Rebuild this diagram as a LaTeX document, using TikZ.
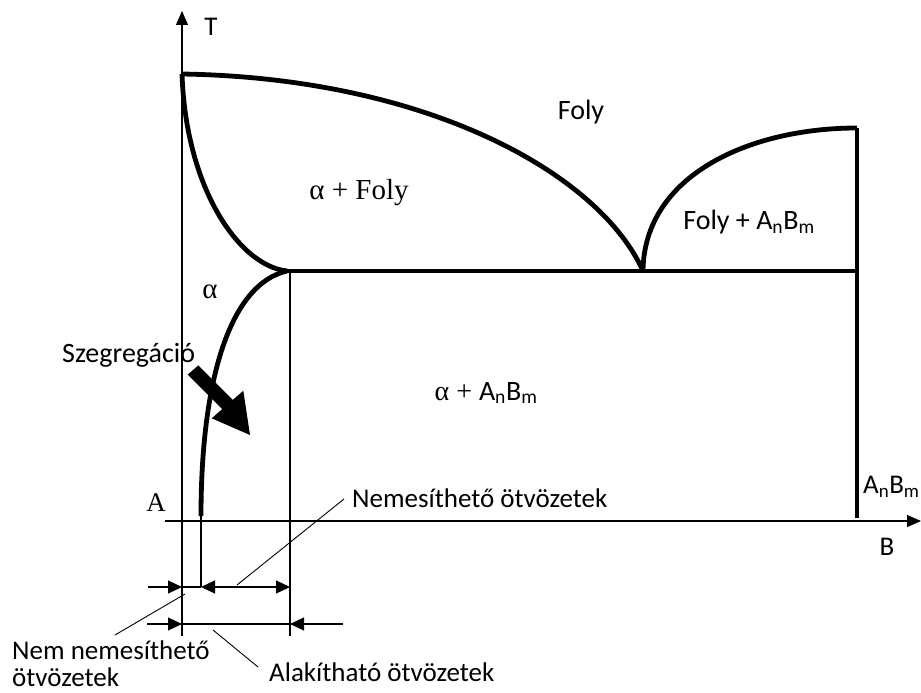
\documentclass[tikz,border=0pt]{standalone}
\usepackage{fontspec}
\setmainfont{Carlito}
\newfontfamily\seriffont{Liberation Serif}
\usetikzlibrary{arrows.meta}
\begin{document}
\begin{tikzpicture}[x=1pt,y=-1pt,
  heavy/.style={line width=4.8pt},
  fine/.style={line width=1.1pt},
  tipR/.style={fine,-{Triangle[length=14pt,width=13pt]}},
  tipB/.style={fine,{Triangle[length=14pt,width=13pt]}-{Triangle[length=14pt,width=13pt]}},
  lbl/.style={inner sep=0pt,font=\fontsize{28}{32}\selectfont},
  blbl/.style={inner sep=0pt,font=\fontsize{27}{31}\selectfont,anchor=base west},
  slbl/.style={inner sep=0pt,font=\fontsize{29}{33}\seriffont},
  leader/.style={line width=0.9pt}]
\useasboundingbox (0,0) rectangle (921,693);
% key points
\coordinate (Ttop) at (182,11);
\coordinate (Tbot) at (182,636);
\coordinate (Xl) at (165,521);
\coordinate (Xr) at (921,521);
\coordinate (Amelt) at (182,74);
\coordinate (E) at (643,271);
\coordinate (S) at (287,271);
\coordinate (Re) at (857,271);
\coordinate (Rtop) at (857,128);
\coordinate (Rbot) at (857,518);
\coordinate (Sb) at (201,516);
\coordinate (Sd) at (201,587);
\coordinate (Vt) at (290,271);
\coordinate (Vb) at (290,636);
% axes
\draw[fine,-{Triangle[length=14pt,width=12pt]}] (Tbot) -- (Ttop);
\draw[fine,-{Triangle[length=14pt,width=12pt]}] (Xl) -- (Xr);
% phase boundaries
\draw[heavy] (Amelt) .. controls (430,78) and (600,175) .. (E);
\draw[heavy] (E) .. controls (644,175) and (750,128) .. (Rtop);
\draw[heavy] (Rtop) -- (Rbot);
\draw[heavy] (S) -- (Re);
\draw[heavy] (Amelt) .. controls (186,190) and (240,266) .. (S);
\draw[heavy] (S) .. controls (230,284) and (201,380) .. (Sb);
% thin verticals
\draw[fine] (Sb) -- (Sd);
\draw[fine] (Vt) -- (Vb);
% dimension lines
\coordinate (d1a) at (148,587);
\coordinate (d1b) at (182,587);
\coordinate (d1c) at (290,587);
\coordinate (d2a) at (147,624);
\coordinate (d2b) at (182,624);
\coordinate (d2c) at (290,624);
\coordinate (d2d) at (343,624);
\draw[tipR] (d1a) -- (d1b);
\draw[fine] (d1b) -- (Sd);
\draw[tipB] (Sd) -- (d1c);
\draw[tipR] (d2a) -- (d2b);
\draw[fine] (d2b) -- (d2c);
\draw[tipR] (d2d) -- (d2c);
% segregation arrow
\fill (198.3,365.4) -- (232.8,399.9) -- (243.3,390.7) -- (250,435) -- (211.7,418.3) -- (222.2,409.1) -- (187.7,374.6) -- cycle;
% labels
\node[lbl,font=\fontsize{27}{31}\selectfont] (T) at (211,27) {T};
\node[slbl,font=\fontsize{27}{31}\seriffont] (A) at (156,503) {A};
\node[lbl,font=\fontsize{27}{31}\selectfont] (B) at (887,547) {B};
\node[lbl,font=\fontsize{27}{31}\selectfont,anchor=west] (AB) at (863,487) {A\textsubscript{n}B\textsubscript{m}};
\node[lbl] (Foly) at (581,112) {Foly};
\node[slbl] (aFoly) at (359,193) {α + Foly};
\node[lbl] (FAB) at (749,222) {Foly + A\textsubscript{n}B\textsubscript{m}};
\node[lbl] (aAB) at (486,393) {{\seriffont α + }A\textsubscript{n}B\textsubscript{m}};
\node[slbl] (alpha) at (210,292) {α};
\node[lbl,anchor=base west,font=\fontsize{28}{32}\selectfont] (Sz) at (62,362) {Szegregáció};
\node[blbl] (Nem) at (352,507) {Nemesíthető ötvözetek};
\node[blbl] (NN) at (12,659) {Nem nemesíthető};
\node[blbl] (NN2) at (12,686) {ötvözetek};
\node[blbl] (Alak) at (269,681) {Alakítható ötvözetek};
% leaders
\coordinate (l1) at (237,585);
\coordinate (l1e) at (344,499);
\coordinate (l2) at (185,594);
\coordinate (l2e) at (115,635);
\coordinate (l3) at (213,630);
\coordinate (l3e) at (258,667);
\draw[leader] (l1) -- (l1e);
\draw[leader] (l2) -- (l2e);
\draw[leader] (l3) -- (l3e);
\end{tikzpicture}
\end{document}
